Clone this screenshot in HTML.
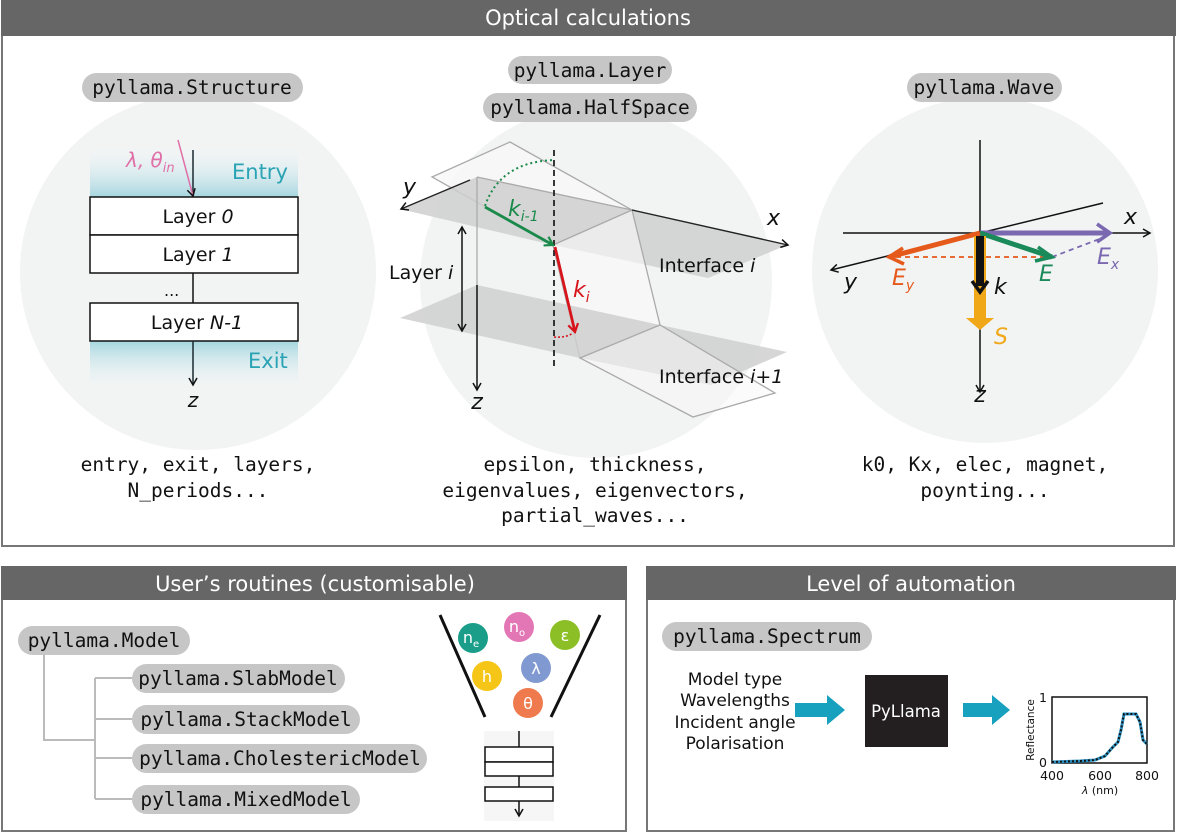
<!DOCTYPE html>
<html><head><meta charset="utf-8"><style>
html,body{margin:0;padding:0;background:#fff;}
svg{display:block;font-family:"DejaVu Sans","Liberation Sans",sans-serif;}
.m{font-family:"DejaVu Sans Mono","Liberation Mono",monospace;font-size:19.5px;fill:#111;}
.pill{fill:#c6c6c6;}
</style></head><body>
<svg width="1177" height="833" viewBox="0 0 1177 833" xmlns="http://www.w3.org/2000/svg">
<defs>
<marker id="ab" markerWidth="10" markerHeight="10" refX="8" refY="5" orient="auto-start-reverse" markerUnits="userSpaceOnUse"><path d="M1,1 L8,5 L1,9" fill="none" stroke="#111" stroke-width="1.5"/></marker>
<marker id="ag" markerWidth="12" markerHeight="12" refX="9" refY="6" orient="auto" markerUnits="userSpaceOnUse"><path d="M1,1 L9,6 L1,11" fill="none" stroke="#1a8a4a" stroke-width="2.2"/></marker>
<marker id="ar" markerWidth="12" markerHeight="12" refX="9" refY="6" orient="auto" markerUnits="userSpaceOnUse"><path d="M1,1 L9,6 L1,11" fill="none" stroke="#d7141b" stroke-width="2.2"/></marker>
<linearGradient id="ge" x1="0" y1="0" x2="0" y2="1"><stop offset="0" stop-color="#fff" stop-opacity="0"/><stop offset="1" stop-color="#a6d6df"/></linearGradient>
<linearGradient id="gx" x1="0" y1="0" x2="0" y2="1"><stop offset="0" stop-color="#a6d6df"/><stop offset="1" stop-color="#fff" stop-opacity="0"/></linearGradient>
</defs>

<rect x="2" y="34" width="1172" height="512" fill="#fff" stroke="#777" stroke-width="2"/>
<rect x="1" y="0" width="1175" height="36" fill="#666"/>
<text x="588" y="25" font-size="21" fill="#fff" text-anchor="middle">Optical calculations</text>

<circle cx="198" cy="272" r="178" fill="#f2f3f3"/>
<circle cx="596" cy="282" r="176" fill="#f2f3f3"/>
<circle cx="985" cy="270" r="173" fill="#f2f3f3"/>

<rect class="pill" x="82" y="73" width="221" height="29" rx="14.5"/>
<text class="m" x="192" y="94" text-anchor="middle">pyllama.Structure</text>
<rect class="pill" x="508" y="56" width="164" height="28" rx="14"/>
<text class="m" x="590" y="77" text-anchor="middle">pyllama.Layer</text>
<rect class="pill" x="483" y="93" width="214" height="29" rx="14.5"/>
<text class="m" x="590" y="114" text-anchor="middle">pyllama.HalfSpace</text>
<rect class="pill" x="907" y="73" width="155" height="29" rx="14.5"/>
<text class="m" x="984" y="94" text-anchor="middle">pyllama.Wave</text>

<!-- left structure -->
<rect x="90" y="140" width="208" height="57" fill="url(#ge)"/>
<rect x="90" y="341" width="208" height="55" fill="url(#gx)"/>
<line x1="193" y1="150" x2="193" y2="197" stroke="#1a2a30" stroke-width="1.5"/>
<line x1="178" y1="140" x2="193" y2="196" stroke="#e070a8" stroke-width="1.5" marker-end="url(#ab)"/>
<text x="126" y="167" font-size="20" fill="#e070a8" font-style="italic">λ, θ<tspan font-size="13" dy="5">in</tspan></text>
<text x="232" y="179" font-size="21" fill="#2aa3b4">Entry</text>
<rect x="90" y="197" width="208" height="38" fill="#fff" stroke="#111" stroke-width="1.5"/>
<rect x="90" y="235" width="208" height="38" fill="#fff" stroke="#111" stroke-width="1.5"/>
<rect x="90" y="303" width="208" height="38" fill="#fff" stroke="#111" stroke-width="1.5"/>
<text x="198" y="223" font-size="19" text-anchor="middle" fill="#111">Layer <tspan font-style="italic">0</tspan></text>
<text x="198" y="261" font-size="19" text-anchor="middle" fill="#111">Layer <tspan font-style="italic">1</tspan></text>
<text x="197" y="329" font-size="19" text-anchor="middle" fill="#111">Layer <tspan font-style="italic">N-1</tspan></text>
<line x1="193" y1="273" x2="193" y2="303" stroke="#111" stroke-width="1.5"/>
<text x="164" y="296" font-size="16" fill="#111">...</text>
<line x1="193" y1="341" x2="193" y2="385" stroke="#1a2a30" stroke-width="1.5" marker-end="url(#ab)"/>
<text x="248" y="368" font-size="21" fill="#2aa3b4">Exit</text>
<text x="193" y="407" font-size="20" font-style="italic" text-anchor="middle" fill="#111">z</text>

<!-- middle layer diagram -->
<polygon points="432,177 510,142 632,210 553,245" fill="#f8f8f8" fill-opacity="0.8" stroke="#aaa" stroke-width="1.3"/>
<polygon points="400,209 477,177 632,210 787,245 708,278 553,245" fill="#cfcfcf" fill-opacity="0.85"/>
<polygon points="553,245 632,210 660,325 580,358" fill="#fafafa" fill-opacity="0.6" stroke="#aaa" stroke-width="1.3"/>
<polygon points="400,318 477,285 660,325 787,352 711,385 580,358" fill="#cfcfcf" fill-opacity="0.85"/>
<polygon points="580,358 660,325 775,393 693,417" fill="#f8f8f8" fill-opacity="0.5" stroke="#aaa" stroke-width="1.3"/>
<line x1="477" y1="177" x2="477" y2="285" stroke="#aaa" stroke-width="1.3"/>
<line x1="477" y1="177" x2="632" y2="210" stroke="#aaa" stroke-width="1.3"/>
<line x1="470" y1="180" x2="401" y2="209" stroke="#222" stroke-width="1.4" marker-end="url(#ab)"/>
<line x1="632" y1="210" x2="788" y2="245" stroke="#222" stroke-width="1.4" marker-end="url(#ab)"/>
<text x="403" y="194" font-size="22" font-style="italic" fill="#111">y</text>
<text x="767" y="225" font-size="22" font-style="italic" fill="#111">x</text>
<line x1="477" y1="285" x2="477" y2="390" stroke="#111" stroke-width="1.5" marker-end="url(#ab)"/>
<text x="477" y="409" font-size="22" font-style="italic" text-anchor="middle" fill="#111">z</text>
<line x1="462" y1="227" x2="462" y2="331" stroke="#111" stroke-width="1.5" marker-end="url(#ab)" marker-start="url(#ab)"/>
<text x="389" y="279" font-size="19" fill="#111">Layer <tspan font-style="italic">i</tspan></text>
<line x1="554" y1="150" x2="554" y2="370" stroke="#222" stroke-width="1.8" stroke-dasharray="6,4"/>
<path d="M485,206 Q500,162 554,160" fill="none" stroke="#1a8a4a" stroke-width="2" stroke-dasharray="2,3"/>
<line x1="485" y1="207" x2="553" y2="245" stroke="#1a8a4a" stroke-width="2.8" marker-end="url(#ag)"/>
<text x="508" y="216" font-size="22" font-style="italic" fill="#1a8a4a">k<tspan font-size="14" dy="5">i-1</tspan></text>
<line x1="555" y1="247" x2="575" y2="332" stroke="#d7141b" stroke-width="2.8" marker-end="url(#ar)"/>
<path d="M554,337 Q566,338 573,333" fill="none" stroke="#d7141b" stroke-width="1.6" stroke-dasharray="2,2"/>
<text x="573" y="297" font-size="22" font-style="italic" fill="#d7141b">k<tspan font-size="14" dy="5">i</tspan></text>
<text x="659" y="272" font-size="19" fill="#111">Interface <tspan font-style="italic">i</tspan></text>
<text x="659" y="383" font-size="19" fill="#111">Interface <tspan font-style="italic">i+1</tspan></text>

<!-- right wave diagram -->
<line x1="980" y1="140" x2="980" y2="392" stroke="#111" stroke-width="1.5" marker-end="url(#ab)"/>
<line x1="843" y1="233" x2="1150" y2="233" stroke="#111" stroke-width="1.5" marker-end="url(#ab)"/>
<line x1="980" y1="233" x2="1103" y2="203" stroke="#111" stroke-width="1.5"/>
<line x1="980" y1="233" x2="831" y2="270" stroke="#111" stroke-width="1.5" marker-end="url(#ab)"/>
<line x1="887" y1="257" x2="1052" y2="257" stroke="#e55a1b" stroke-width="1.8" stroke-dasharray="5,4"/>
<line x1="1052" y1="257" x2="1110" y2="235" stroke="#7a68b0" stroke-width="1.8" stroke-dasharray="5,4"/>
<line x1="980" y1="233" x2="1108" y2="233" stroke="#7a68b0" stroke-width="5"/>
<path d="M1097,224 L1110,233 L1097,242" fill="none" stroke="#7a68b0" stroke-width="3.5"/>
<line x1="980" y1="233" x2="1052" y2="257" stroke="#1a8a5a" stroke-width="5"/>
<path d="M1038,247 L1052,257 L1035,261" fill="none" stroke="#1a8a5a" stroke-width="3.5"/>
<line x1="980" y1="233" x2="889" y2="257" stroke="#e55a1b" stroke-width="5"/>
<path d="M903,248 L889,257 L904,264" fill="none" stroke="#e55a1b" stroke-width="3.5"/>
<rect x="974" y="236" width="12" height="84" fill="#f0a818"/>
<polygon points="966,318 994,318 980,330" fill="#f0a818"/>
<rect x="976" y="236" width="8" height="50" fill="#111"/>
<path d="M972,281 L980,292 L988,281" fill="none" stroke="#111" stroke-width="3.5"/>
<text x="1124" y="224" font-size="22" font-style="italic" fill="#111">x</text>
<text x="844" y="289" font-size="22" font-style="italic" fill="#111">y</text>
<text x="892" y="285" font-size="22" font-style="italic" fill="#e55a1b">E<tspan font-size="14" dy="5">y</tspan></text>
<text x="1039" y="281" font-size="22" font-style="italic" fill="#1a8a5a">E</text>
<text x="1097" y="264" font-size="22" font-style="italic" fill="#7a68b0">E<tspan font-size="14" dy="5">x</tspan></text>
<text x="994" y="294" font-size="22" font-style="italic" fill="#111">k</text>
<text x="994" y="344" font-size="22" font-style="italic" fill="#f0a818">S</text>
<text x="980" y="402" font-size="22" font-style="italic" text-anchor="middle" fill="#111">z</text>

<text class="m" x="198" y="471" text-anchor="middle">entry, exit, layers,</text>
<text class="m" x="198" y="497" text-anchor="middle">N_periods...</text>
<text class="m" x="595" y="471" text-anchor="middle">epsilon, thickness,</text>
<text class="m" x="595" y="497" text-anchor="middle">eigenvalues, eigenvectors,</text>
<text class="m" x="595" y="522" text-anchor="middle">partial_waves...</text>
<text class="m" x="985" y="471" text-anchor="middle">k0, Kx, elec, magnet,</text>
<text class="m" x="985" y="497" text-anchor="middle">poynting...</text>

<!-- bottom left panel -->
<rect x="2" y="567" width="624" height="264" fill="#fff" stroke="#777" stroke-width="2"/>
<rect x="1" y="566" width="626" height="34" fill="#666"/>
<text x="315" y="591" font-size="21" fill="#fff" text-anchor="middle">User’s routines (customisable)</text>
<g stroke="#bbb" stroke-width="2" fill="none">
<path d="M44,655 V740 H95"/>
<path d="M95,678 V799"/>
<path d="M95,678 H132 M95,719 H132 M95,758 H132 M95,799 H132"/>
</g>
<rect class="pill" x="18" y="626" width="172" height="29" rx="14.5"/>
<text class="m" x="104" y="647" text-anchor="middle">pyllama.Model</text>
<rect class="pill" x="132" y="664" width="213" height="29" rx="14.5"/>
<text class="m" x="238" y="685" text-anchor="middle">pyllama.SlabModel</text>
<rect class="pill" x="132" y="705" width="228" height="29" rx="14.5"/>
<text class="m" x="246" y="726" text-anchor="middle">pyllama.StackModel</text>
<rect class="pill" x="132" y="744" width="295" height="29" rx="14.5"/>
<text class="m" x="280" y="765" text-anchor="middle">pyllama.CholestericModel</text>
<rect class="pill" x="132" y="785" width="228" height="29" rx="14.5"/>
<text class="m" x="246" y="806" text-anchor="middle">pyllama.MixedModel</text>

<line x1="440" y1="615" x2="485" y2="717" stroke="#111" stroke-width="3"/>
<line x1="600" y1="615" x2="551" y2="717" stroke="#111" stroke-width="3"/>
<g font-size="16" fill="#fff" text-anchor="middle">
<circle cx="473" cy="638" r="15" fill="#1a9e8a"/><text x="471" y="643">n<tspan font-size="10" dy="4">e</tspan></text>
<circle cx="519" cy="627" r="15" fill="#e377b5"/><text x="517" y="632">n<tspan font-size="10" dy="4">o</tspan></text>
<circle cx="565" cy="635" r="15" fill="#8cbf26"/><text x="565" y="641">ε</text>
<circle cx="487" cy="676" r="15" fill="#f5c518"/><text x="487" y="682">h</text>
<circle cx="536" cy="668" r="15" fill="#8099d0"/><text x="536" y="674">λ</text>
<circle cx="528" cy="703" r="15" fill="#ef7a4d"/><text x="528" y="709">θ</text>
</g>
<rect x="484" y="731" width="70" height="90" fill="#f0f0f0" opacity="0.6"/>
<line x1="519" y1="731" x2="519" y2="747" stroke="#111" stroke-width="1.5"/>
<rect x="485" y="747" width="68" height="15" fill="#fff" stroke="#111" stroke-width="1.5"/>
<rect x="485" y="762" width="68" height="14" fill="#fff" stroke="#111" stroke-width="1.5"/>
<line x1="519" y1="776" x2="519" y2="787" stroke="#111" stroke-width="1.5"/>
<rect x="485" y="787" width="68" height="14" fill="#fff" stroke="#111" stroke-width="1.5"/>
<line x1="519" y1="801" x2="519" y2="816" stroke="#111" stroke-width="1.5" marker-end="url(#ab)"/>

<!-- bottom right panel -->
<rect x="647" y="567" width="527" height="264" fill="#fff" stroke="#777" stroke-width="2"/>
<rect x="646" y="566" width="530" height="34" fill="#666"/>
<text x="911" y="591" font-size="21" fill="#fff" text-anchor="middle">Level of automation</text>
<rect class="pill" x="662" y="622" width="210" height="29" rx="14.5"/>
<text class="m" x="767" y="643" text-anchor="middle">pyllama.Spectrum</text>
<g font-size="17" fill="#111" text-anchor="middle">
<text x="735" y="685">Model type</text>
<text x="735" y="706">Wavelengths</text>
<text x="735" y="728">Incident angle</text>
<text x="735" y="749">Polarisation</text>
</g>
<polygon points="795,703 827,703 827,695 845,710 827,725 827,717 795,717" fill="#18a0bf"/>
<rect x="865" y="675" width="83" height="72" fill="#231f20"/>
<text x="906" y="717" font-size="16.5" fill="#fff" text-anchor="middle">PyLlama</text>
<polygon points="963,703 992,703 992,695 1010,710 992,725 992,717 963,717" fill="#18a0bf"/>
<rect x="1052" y="697" width="95" height="66" fill="#fff" stroke="#111" stroke-width="1.5"/>
<path d="M1052,762 L1080,761 L1095,760 L1105,756 L1112,748 L1118,742 L1121,730 L1124,714 L1136,714 L1140,722 L1143,740 L1147,744" fill="none" stroke="#2a8fc0" stroke-width="3"/>
<path d="M1052,762 L1080,761 L1095,760 L1105,756 L1112,748 L1118,742 L1121,730 L1124,714 L1136,714 L1140,722 L1143,740 L1147,744" fill="none" stroke="#111" stroke-width="2" stroke-dasharray="2,2"/>
<g font-size="12.5" fill="#111">
<text x="1047" y="702" text-anchor="end">1</text>
<text x="1047" y="767" text-anchor="end">0</text>
<text x="1052" y="780" text-anchor="middle">400</text>
<text x="1100" y="780" text-anchor="middle">600</text>
<text x="1147" y="780" text-anchor="middle">800</text>
<text x="1100" y="794" text-anchor="middle" font-size="11"><tspan font-style="italic">λ</tspan> (nm)</text>
<text transform="translate(1034,730) rotate(-90)" text-anchor="middle" font-size="10.5">Reflectance</text>
</g>
</svg>
</body></html>
